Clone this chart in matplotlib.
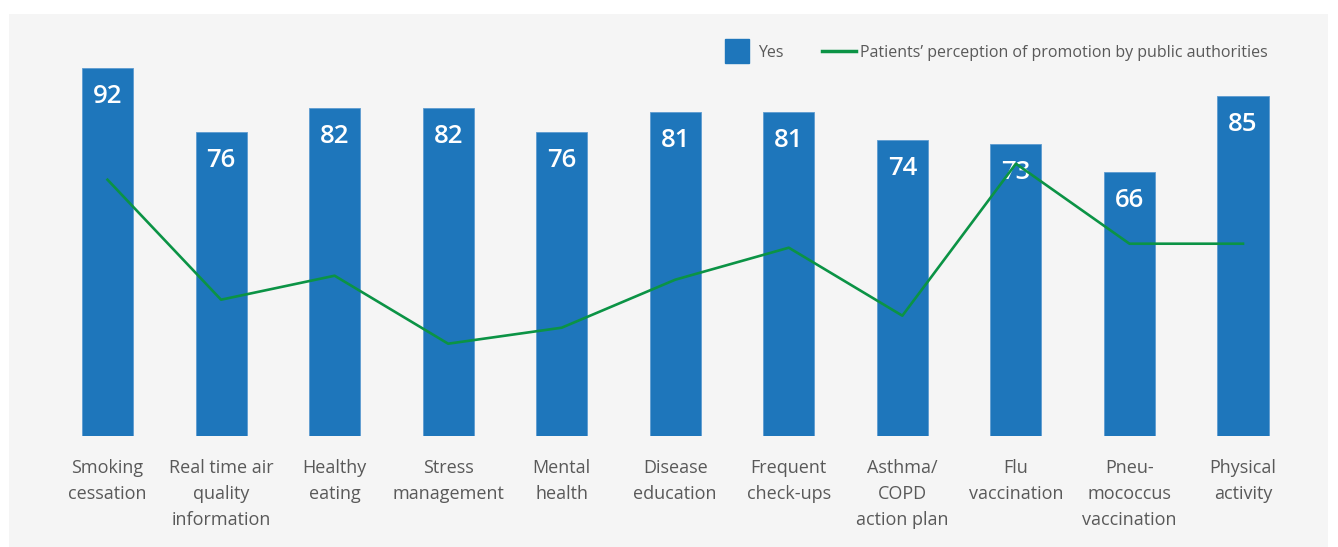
import matplotlib
matplotlib.use("Agg")
import matplotlib.pyplot as plt
from matplotlib.patches import Rectangle
from matplotlib.lines import Line2D
import numpy as np

plt.rcParams["font.family"] = ["Open Sans", "DejaVu Sans"]

categories = [
    "Smoking\ncessation",
    "Real time air\nquality\ninformation",
    "Healthy\neating",
    "Stress\nmanagement",
    "Mental\nhealth",
    "Disease\neducation",
    "Frequent\ncheck-ups",
    "Asthma/\nCOPD\naction plan",
    "Flu\nvaccination",
    "Pneu-\nmococcus\nvaccination",
    "Physical\nactivity",
]
yes_values = [92, 76, 82, 82, 76, 81, 81, 74, 73, 66, 85]
promotion_values = [64, 34, 40, 23, 27, 39, 47, 30, 68, 48, 48]

BLUE = "#1e76bb"
GREEN = "#0b9345"
GREY_TEXT = "#595959"
PANEL = "#f5f5f5"

W, H = 1338, 547
fig = plt.figure(figsize=(W / 100, H / 100), dpi=100)
fig.patch.set_facecolor("white")

# light grey panel behind the chart
fig.patches.append(Rectangle((9 / W, 0), (1328 - 9) / W, (H - 14) / H,
                             transform=fig.transFigure, facecolor=PANEL,
                             edgecolor="none", zorder=-10))

# axes: bars start at y=436 px, 4 px per percentage point
base_px, px_per_unit, step = 435.7, 4.0, 113.55
ax = fig.add_axes([0, (H - base_px) / H, 1, (base_px - 14) / H])
ax.patch.set_visible(False)

x = np.arange(len(categories))
ax.set_xlim(-107.5 / step, (W - 107.5) / step)
ax.set_ylim(0, (base_px - 14) / px_per_unit)

ax.bar(x, yes_values, width=0.45, color=BLUE, edgecolor="#5d9bd0",
       linewidth=0.6, zorder=2)
ax.plot(x, promotion_values, color=GREEN, lw=1.9, zorder=4)

for xi, v in zip(x, yes_values):
    ax.annotate(str(v), xy=(xi, v), xytext=(0, -25.6), textcoords="offset points",
                ha="center", va="baseline", color="white", fontsize=18.5,
                fontweight="semibold", zorder=3)

ax.set_xticks(x, categories, fontsize=13, color=GREY_TEXT, linespacing=1.58)
ax.tick_params(axis="x", length=0, pad=16.5)
ax.set_yticks([])
for s in ax.spines.values():
    s.set_visible(False)

handles = [
    Line2D([], [], linestyle="none", marker="s", markersize=17.3,
           markerfacecolor=BLUE, markeredgecolor=BLUE),
    Line2D([], [], color=GREEN, lw=2.5),
]
ax.legend(handles, ["Yes", "Patients\u2019 perception of promotion by public authorities"],
          loc="center left", bbox_to_anchor=(720 / W, 1 - 53 / H),
          bbox_transform=fig.transFigure, ncol=2, frameon=False,
          fontsize=11.5, labelcolor=GREY_TEXT, borderpad=0, borderaxespad=0,
          handlelength=34 / 16, handletextpad=0.25, columnspacing=2.4)

fig.savefig("out.png", dpi=100, facecolor=fig.get_facecolor())
